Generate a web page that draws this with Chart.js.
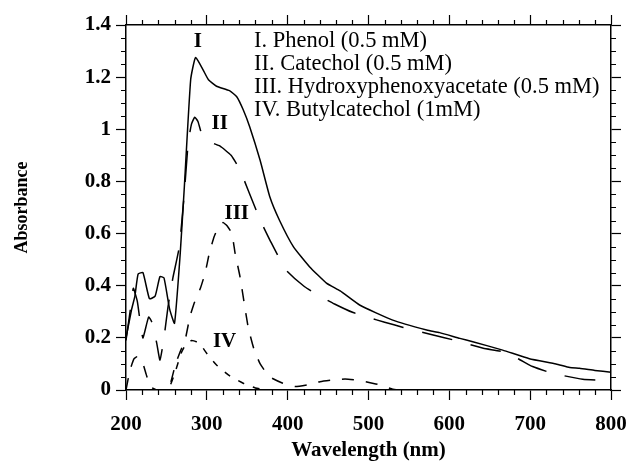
<!DOCTYPE html>
<html>
<head>
<meta charset="utf-8">
<script src="https://cdn.jsdelivr.net/npm/chart.js@4.4.1/dist/chart.umd.min.js"></script>
<style>
  html, body { margin: 0; padding: 0; background: #fff; }
  #wrap { width: 633px; height: 463px; }
</style>
</head>
<body>
<div id="wrap"><canvas id="specChart" width="633" height="463"></canvas></div>
<script>
// spectra (wavelength in nm, absorbance)
const phenolWl = [200, 207, 211, 215, 221, 229, 236, 242, 247, 254, 260, 267, 272, 280, 286, 295, 302, 312, 328, 337, 345, 353, 366, 378, 390, 407, 427, 448, 465, 489, 530, 572, 588, 613, 629, 666, 699, 732, 749, 761, 780, 800];
const phenolAbs = [0.20, 0.31, 0.36, 0.445, 0.45, 0.35, 0.36, 0.435, 0.43, 0.31, 0.256, 0.52, 0.77, 1.19, 1.275, 1.23, 1.19, 1.165, 1.148, 1.125, 1.075, 1.01, 0.88, 0.74, 0.65, 0.55, 0.473, 0.41, 0.38, 0.326, 0.268, 0.23, 0.22, 0.198, 0.185, 0.153, 0.12, 0.10, 0.086, 0.083, 0.075, 0.068];

const catecholWl = [200, 205, 209, 214, 218, 221, 228, 232, 238, 242, 247, 252, 258, 266, 272, 277, 281, 285, 289, 294, 305, 316, 330, 341, 351, 366, 378, 398, 421, 440, 458, 481, 500, 520, 543, 580, 605, 642, 666, 685, 703, 728, 765, 800];
const catecholAbs = [0.19, 0.30, 0.39, 0.34, 0.25, 0.20, 0.28, 0.26, 0.18, 0.115, 0.20, 0.32, 0.43, 0.55, 0.75, 0.95, 1.02, 1.046, 1.03, 0.98, 0.95, 0.936, 0.90, 0.844, 0.767, 0.652, 0.575, 0.46, 0.396, 0.36, 0.33, 0.297, 0.278, 0.26, 0.24, 0.211, 0.192, 0.16, 0.147, 0.12, 0.09, 0.064, 0.041, 0.036];

const hpaWl = [200, 205, 210, 214, 220, 225, 230, 238, 250, 255, 261, 267, 273, 279, 284, 292, 298, 303, 309, 315, 320, 325, 331, 335, 341, 351, 358, 366, 378, 394, 409, 425, 440, 454, 471, 485, 502, 516, 530, 540, 800];
const hpaAbs = [0, 0.077, 0.12, 0.128, 0.11, 0.06, 0.013, 0, 0, 0.026, 0.096, 0.147, 0.19, 0.28, 0.33, 0.39, 0.45, 0.524, 0.588, 0.63, 0.642, 0.63, 0.60, 0.524, 0.435, 0.243, 0.16, 0.10, 0.05, 0.026, 0.013, 0.02, 0.032, 0.038, 0.042, 0.038, 0.028, 0.018, 0.003, 0, 0];

const butylWl = [200, 250, 255, 262, 268, 273, 281, 287, 293, 300, 312, 328, 345, 360, 375, 800];
const butylAbs = [0, 0, 0.02, 0.08, 0.14, 0.17, 0.19, 0.185, 0.17, 0.14, 0.096, 0.055, 0.026, 0.008, 0, 0];

const xTicks = [200, 300, 400, 500, 600, 700, 800];
const yTicks = [0, 0.2, 0.4, 0.6, 0.8, 1, 1.2, 1.4];

const legendLines = [
  'I. Phenol (0.5 mM)',
  'II. Catechol (0.5 mM)',
  'III. Hydroxyphenoxyacetate (0.5 mM)',
  'IV. Butylcatechol (1mM)'
];
// curve tags and where they sit (data coords)
const curveTags = ['I', 'II', 'III', 'IV'];
const tagWl = [289, 316, 337, 322];
const tagAbs = [1.336, 1.023, 0.678, 0.185];

const serif = '"Liberation Serif", "DejaVu Serif", serif';

function pts(xs, ys) {
  return xs.map((x, i) => ({ x: x, y: ys[i] }));
}

function lineSet(label, xs, ys, dash) {
  return {
    label: label,
    data: pts(xs, ys),
    borderColor: '#000',
    borderWidth: 1.5,
    borderDash: dash,
    pointRadius: 0,
    fill: false,
    tension: 0.15
  };
}

// minor ticks, legend block and curve tags
const extras = {
  id: 'extras',
  afterDraw(chart) {
    const c = chart.ctx;
    const xs = chart.scales.x, ys = chart.scales.y;
    const a = chart.chartArea;
    c.save();
    c.strokeStyle = '#000';
    c.lineWidth = 1.2;
    c.beginPath();
    for (let w = 200; w <= 800; w += 20) {
      if (w % 100 === 0) continue;
      const px = Math.round(xs.getPixelForValue(w)) + 0.5;
      c.moveTo(px, a.bottom); c.lineTo(px, a.bottom + 5);
      c.moveTo(px, a.top); c.lineTo(px, a.top - 5);
    }
    for (let k = 0; k <= 28; k++) {
      if (k % 4 === 0) continue;
      const py = Math.round(ys.getPixelForValue(k * 0.05)) + 0.5;
      c.moveTo(a.left, py); c.lineTo(a.left - 5, py);
      c.moveTo(a.right, py); c.lineTo(a.right + 5, py);
    }
    c.stroke();

    c.fillStyle = '#000';
    c.font = '22.5px ' + serif;
    c.textAlign = 'left';
    c.textBaseline = 'middle';
    legendLines.forEach((t, i) => c.fillText(t, 254, 41 + i * 23));

    c.font = 'bold 21px ' + serif;
    c.textAlign = 'center';
    curveTags.forEach((t, i) => {
      c.fillText(t, xs.getPixelForValue(tagWl[i]), ys.getPixelForValue(tagAbs[i]));
    });
    c.restore();
  }
};

const tickList = (vals) => (s) => { s.ticks = vals.map(v => ({ value: v })); };
const fixH = (h) => (s) => { s.height = h; s.paddingLeft = 0; s.paddingRight = 0; };
const fixW = (w) => (s) => { s.width = w; s.paddingTop = 0; s.paddingBottom = 0; };

new Chart(document.getElementById('specChart'), {
  type: 'line',
  data: {
    datasets: [
      lineSet('Phenol', phenolWl, phenolAbs, []),
      lineSet('Catechol', catecholWl, catecholAbs, [31, 19]),
      lineSet('Hydroxyphenoxyacetate', hpaWl, hpaAbs, [12, 12]),
      lineSet('Butylcatechol', butylWl, butylAbs, [7, 9])
    ]
  },
  options: {
    responsive: false,
    animation: false,
    layout: { padding: 0 },
    plugins: {
      legend: { display: false },
      tooltip: { enabled: false }
    },
    scales: {
      x: {
        type: 'linear',
        position: 'bottom',
        min: 200, max: 800,
        afterBuildTicks: tickList(xTicks),
        afterFit: fixH(73),
        grid: { drawOnChartArea: false, tickLength: 10, tickColor: '#000', tickWidth: 1.2 },
        border: { color: '#000', width: 1.5 },
        ticks: { color: '#000', padding: 12, maxRotation: 0, font: { family: serif, size: 21, weight: 'bold' } },
        title: { display: true, text: 'Wavelength (nm)', color: '#000', padding: { top: 0, bottom: 0 }, font: { family: serif, size: 21, weight: 'bold' } }
      },
      xTop: {
        type: 'linear',
        position: 'top',
        min: 200, max: 800,
        afterBuildTicks: tickList(xTicks),
        afterFit: fixH(25),
        grid: { drawOnChartArea: false, tickLength: 10, tickColor: '#000', tickWidth: 1.2 },
        border: { color: '#000', width: 1.5 },
        ticks: { display: false }
      },
      y: {
        type: 'linear',
        position: 'left',
        min: 0, max: 1.4,
        afterBuildTicks: tickList(yTicks),
        afterFit: fixW(126),
        grid: { drawOnChartArea: false, tickLength: 10, tickColor: '#000', tickWidth: 1.2 },
        border: { color: '#000', width: 1.5 },
        ticks: {
          color: '#000', padding: 5,
          font: { family: serif, size: 21, weight: 'bold' },
          callback: (v) => String(+v.toFixed(1))
        },
        title: { display: true, text: 'Absorbance', color: '#000', padding: { top: 12, bottom: 0 }, font: { family: serif, size: 18, weight: 'bold' } }
      },
      yRight: {
        type: 'linear',
        position: 'right',
        min: 0, max: 1.4,
        afterBuildTicks: tickList(yTicks),
        afterFit: fixW(22),
        grid: { drawOnChartArea: false, tickLength: 10, tickColor: '#000', tickWidth: 1.2 },
        border: { color: '#000', width: 1.5 },
        ticks: { display: false }
      }
    }
  },
  plugins: [extras]
});
</script>
</body>
</html>
